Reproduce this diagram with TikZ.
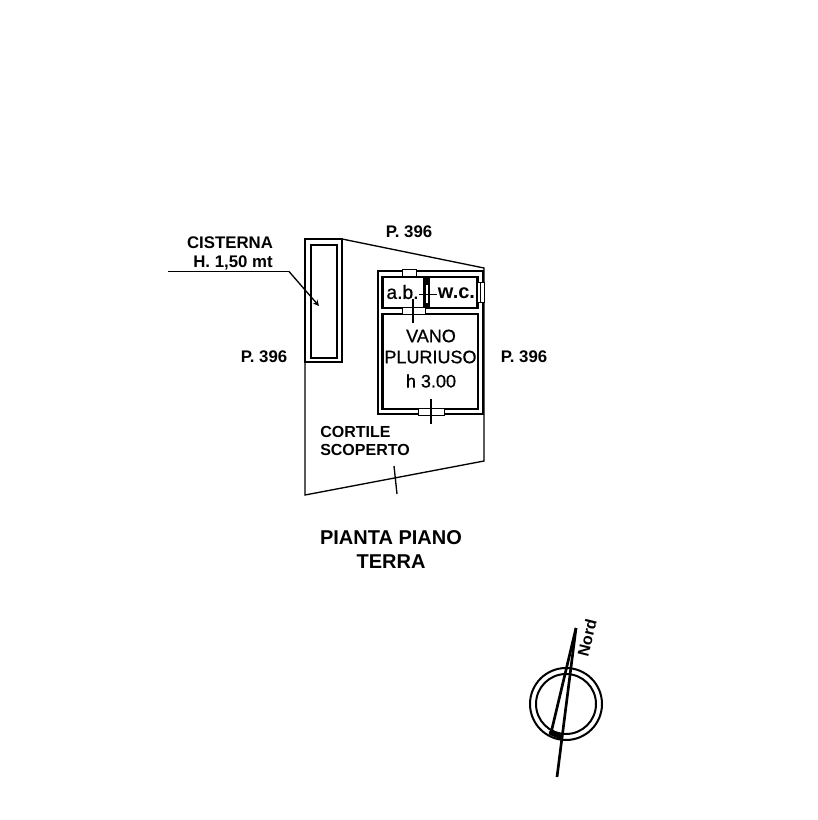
\documentclass[tikz,border=0pt]{standalone}
\usepackage{fontspec}
\setmainfont{Liberation Sans}
\newfontfamily\medfont[FakeBold=0.7]{Liberation Sans}
\tikzstyle{wall}=[draw, line width=2pt, fill=white]
\tikzstyle{wallin}=[draw, line width=2pt]
\tikzstyle{gap}=[draw, line width=0.7pt, fill=white]
\tikzstyle{fine}=[line width=1pt]
\tikzstyle{lblb}=[inner sep=0pt, font=\fontsize{12.6}{14}\selectfont\bfseries]
\tikzstyle{lbls}=[inner sep=0pt, font=\fontsize{12}{14}\selectfont\bfseries]
\tikzstyle{lblr}=[inner sep=0pt, font=\medfont\fontsize{13.5}{15}\selectfont]
\tikzstyle{lblt}=[inner sep=0pt, font=\fontsize{15}{17}\selectfont\bfseries]

\begin{document}
\begin{tikzpicture}[x=0.75pt, y=-0.75pt]
\useasboundingbox (0,0) rectangle (817,820);

% boundary of the lot
\coordinate (b1) at (342,239);
\coordinate (b2) at (484,268);
\coordinate (b3) at (484,461);
\coordinate (b4) at (305,495);
\coordinate (b5) at (305,362);
\draw[fine] (b1) -- (b2) -- (b3) -- (b4) -- (b5);

% cistern
\node[wall, minimum width=27.75pt, minimum height=92.25pt, inner sep=0pt] (cist) at (323.5,300.5) {};
\draw[wallin] (311,245) rectangle (337,358);

% rooms
\draw[wall] (378,271) rectangle (483,414);
\draw[wallin] (382.5,314) rectangle (478,409);
\draw[wallin] (382.5,277) rectangle (424,308);
\draw[wallin] (429,277) rectangle (477.5,308);
\fill[white] (424.5,278.5) rectangle (428.5,306.5);
\draw[line width=0.6pt] (425,278) -- (425,307);
\draw[line width=0.6pt] (428,278) -- (428,307);
\fill (424,276) rectangle (429.5,285);
\fill (424,303) rectangle (429.5,309);

% openings
\draw[gap] (402,269.5) rectangle (416,276);
\draw[gap] (402,307.5) rectangle (425,314.5);
\draw[gap] (418,408.5) rectangle (444,415);
\draw[gap] (477.5,282) rectangle (484,302);
\draw[line width=0.6pt] (480.5,282) -- (480.5,302);

% door marks
\draw[fine] (413,299) -- (413,323);
\draw[fine] (419,294.5) -- (437,294.5);
\draw[fine] (431,399) -- (431,424);
\coordinate (m1) at (394,466);
\coordinate (m2) at (397,494);
\draw[fine] (m1) -- (m2);

% leader
\coordinate (l1) at (168,271.5);
\coordinate (l2) at (289,271.5);
\coordinate (l3) at (319,306);
\draw[fine] (l1) -- (l2);
\draw[fine, ->, >=stealth] (l2) -- (l3);

% labels
\node[lblb] (n1) at (230,243) {CISTERNA};
\node[lblb] (n2) at (233,263) {H. 1,50 mt};
\node[lblb] (n3) at (409,232) {P. 396};
\node[lblb] (n4) at (264,357) {P. 396};
\node[lblb] (n5) at (524,357) {P. 396};
\node[inner sep=0pt, font=\medfont\fontsize{14.4}{16}\selectfont] (n6) at (402.5,292) {a.b.};
\node[inner sep=0pt, font=\fontsize{15}{16}\selectfont\bfseries] (n7) at (456.5,293) {w.c.};
\node[lblr] (n8) at (431,336) {VANO};
\node[lblr] (n9) at (430.5,357) {PLURIUSO};
\node[lblr] (n10) at (431,381) {h 3.00};
\node[lbls, anchor=west] (n11) at (320,432) {CORTILE};
\node[lbls, anchor=west] (n12) at (320,450) {SCOPERTO};
\node[lblt] (n13) at (391,538) {PIANTA PIANO};
\node[lblt] (n14) at (391,562) {TERRA};

% north sign
\node[draw, circle, line width=1.5pt, minimum size=54pt, inner sep=0pt] (c1) at (566,704) {};
\node[draw, circle, line width=1.5pt, minimum size=45pt, inner sep=0pt] (c2) at (566,704) {};
\coordinate (t1) at (576,628);
\coordinate (t2) at (557,777);
\coordinate (t3) at (551,733);
\coordinate (t4) at (561,737);
\draw[line width=2pt] (t1) -- (t2);
\draw[line width=2pt] (t1) -- (t3);
\draw[line width=3.5pt, line cap=round] (t3) -- (t4);
\node[lbls, rotate=76] (n15) at (587,638) {Nord};
\end{tikzpicture}
\end{document}
